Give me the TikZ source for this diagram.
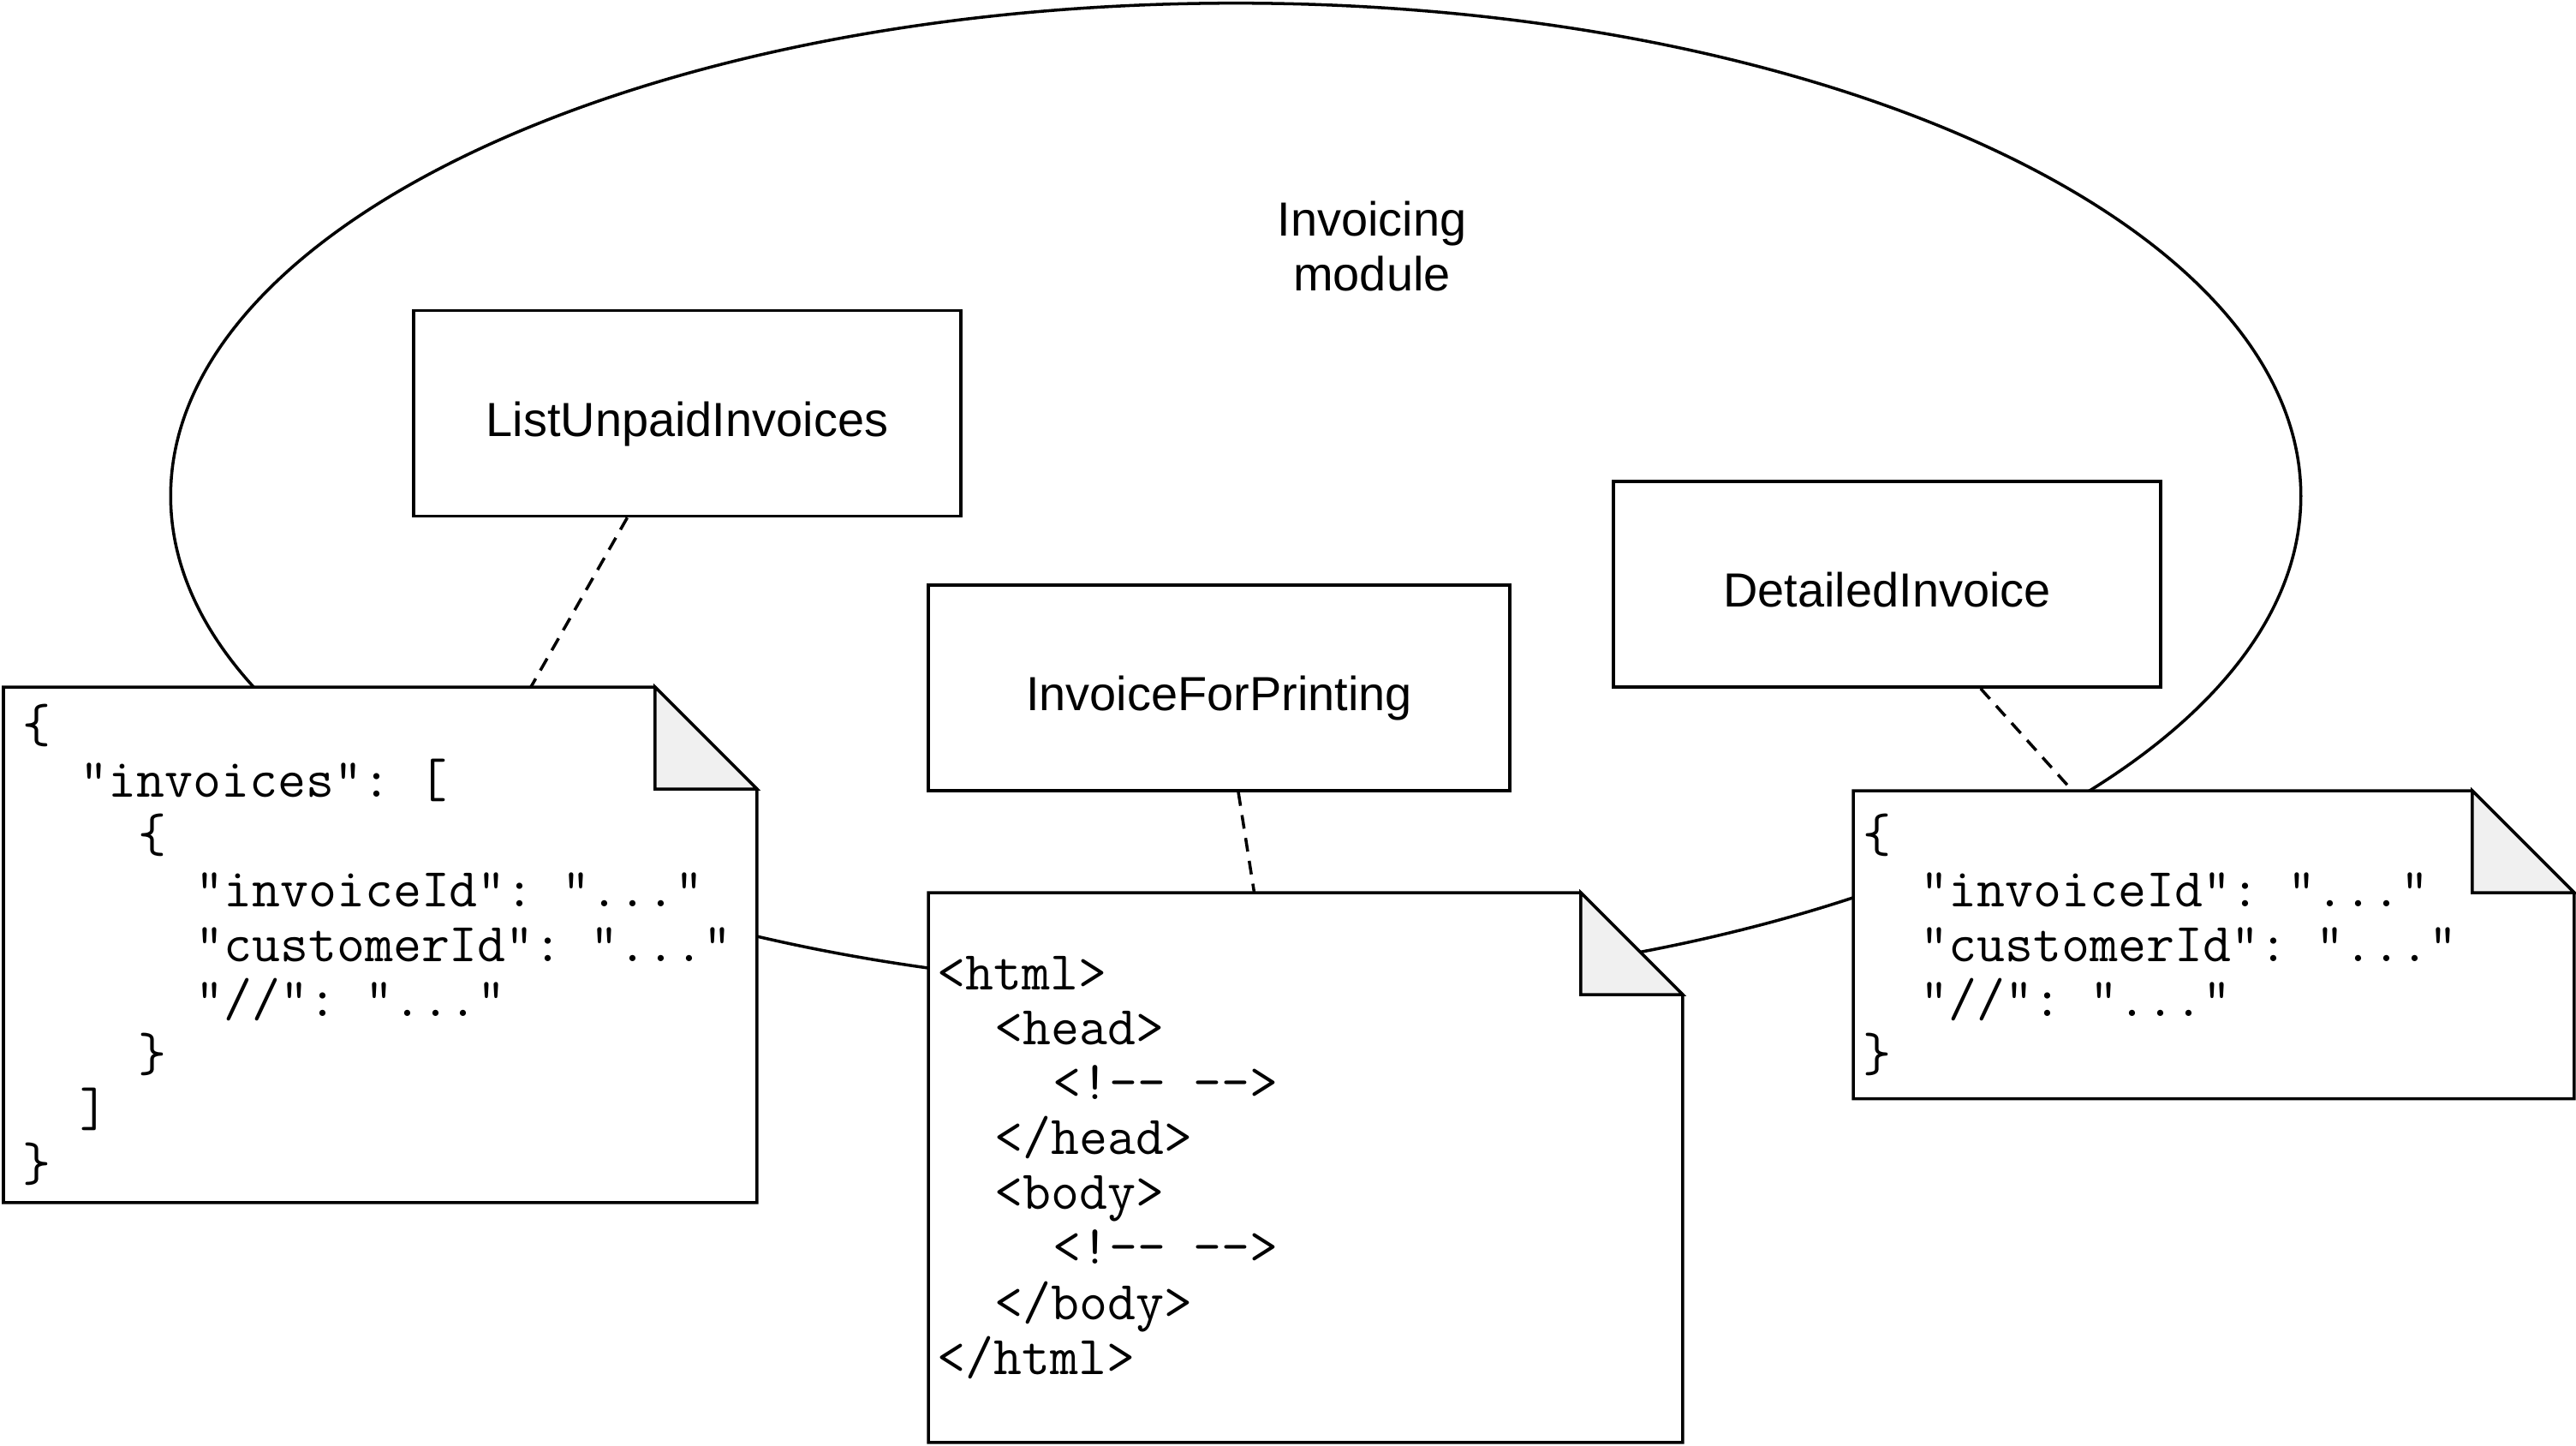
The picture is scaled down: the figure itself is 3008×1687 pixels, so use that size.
\documentclass[tikz,border=0pt]{standalone}
\usepackage{fontspec}
\setmainfont{Liberation Sans}
\usetikzlibrary{calc}
\pgfdeclarelayer{bg}
\pgfsetlayers{bg,main}
\definecolor{foldgray}{HTML}{F0F0F0}
\newcommand\tb{\hspace*{1.05em}}
\newcommand\dd{-\kern0pt-}
\newcommand\docshape[1]{%
  \path[docfill] (#1.north west) -- ([xshift=-1.19cm]#1.north east) -- ([yshift=-1.19cm]#1.north east) -- (#1.south east) -- (#1.south west) -- cycle;
  \path[fold] ([xshift=-1.19cm]#1.north east) -- ([xshift=-1.19cm,yshift=-1.19cm]#1.north east) -- ([yshift=-1.19cm]#1.north east) -- cycle;}
\tikzset{
  lw/.style={line width=1pt},
  sansfont/.style={font=\fontsize{15.9}{18.2}\selectfont},
  modbox/.style={draw, lw, fill=white, rectangle, minimum height=2.4cm, inner sep=0pt, text height=18.5pt, text depth=3.3pt, sansfont},
  docarea/.style={rectangle, inner sep=0pt, anchor=north west},
  doctext/.style={inner sep=0pt, align=left, anchor=west, font=\ttfamily\fontsize{18.2}{18.23}\selectfont\frenchspacing},
  docfill/.style={draw, lw, fill=white, line join=miter},
  fold/.style={draw, lw, fill=foldgray, line join=miter},
  dashlink/.style={lw, dash pattern=on 0.16cm off 0.11cm},
}
\begin{document}
\begin{tikzpicture}[x=0.01cm, y=-0.01cm]
\useasboundingbox (0,0) rectangle (3008,1687);

% title
\node[sansfont, align=center] (mod) at (1602,288) {Invoicing\\module};

% operation boxes
\node[modbox, minimum width=6.39cm] (lui) at (802.5,482.5) {ListUnpaidInvoices};
\node[modbox, minimum width=6.79cm] (ifp) at (1423.5,803) {InvoiceForPrinting};
\node[modbox, minimum width=6.39cm] (det) at (2203.5,682) {DetailedInvoice};

% document areas
\node[docarea, minimum width=8.78cm, minimum height=6.0cm] (ldoc) at (4,802) {};
\node[docarea, minimum width=8.79cm, minimum height=6.4cm] (mdoc) at (1084,1042) {};
\node[docarea, minimum width=8.40cm, minimum height=3.58cm] (rdoc) at (2164,923) {};

% document texts
\node[doctext, xshift=0.22cm] (ltext) at (ldoc.west) {%
\{\\
\tb"invoices": [\\
\tb\tb\{\\
\tb\tb\tb"invoiceId": "..."\\
\tb\tb\tb"customerId": "..."\\
\tb\tb\tb"//": "..."\\
\tb\tb\}\\
\tb]\\
\}};

\node[doctext, xshift=0.10cm] (mtext) at (mdoc.west) {%
<html>\\
\tb<head>\\
\tb\tb<!\dd{} \dd>\\
\tb</head>\\
\tb<body>\\
\tb\tb<!\dd{} \dd>\\
\tb</body>\\
</html>};

\node[doctext, xshift=0.11cm] (rtext) at (rdoc.west) {%
\{\\
\tb"invoiceId": "..."\\
\tb"customerId": "..."\\
\tb"//": "..."\\
\}};

\begin{pgfonlayer}{bg}
  \draw[lw] (1443,579) ellipse [x radius=12.43cm, y radius=5.75cm];
  \docshape{ldoc}
  \docshape{mdoc}
  \docshape{rdoc}
\end{pgfonlayer}

% dashed links
\draw[dashlink] ($(lui.south west)!0.391!(lui.south east)$) -- ($(ldoc.north west)!0.70!(ldoc.north east)$);
\draw[dashlink] ($(ifp.south west)!0.533!(ifp.south east)$) -- ($(mdoc.north west)!0.432!(mdoc.north east)$);
\draw[dashlink] ($(det.south west)!0.67!(det.south east)$) -- ($(rdoc.north west)!0.304!(rdoc.north east)$);
\end{tikzpicture}
\end{document}
